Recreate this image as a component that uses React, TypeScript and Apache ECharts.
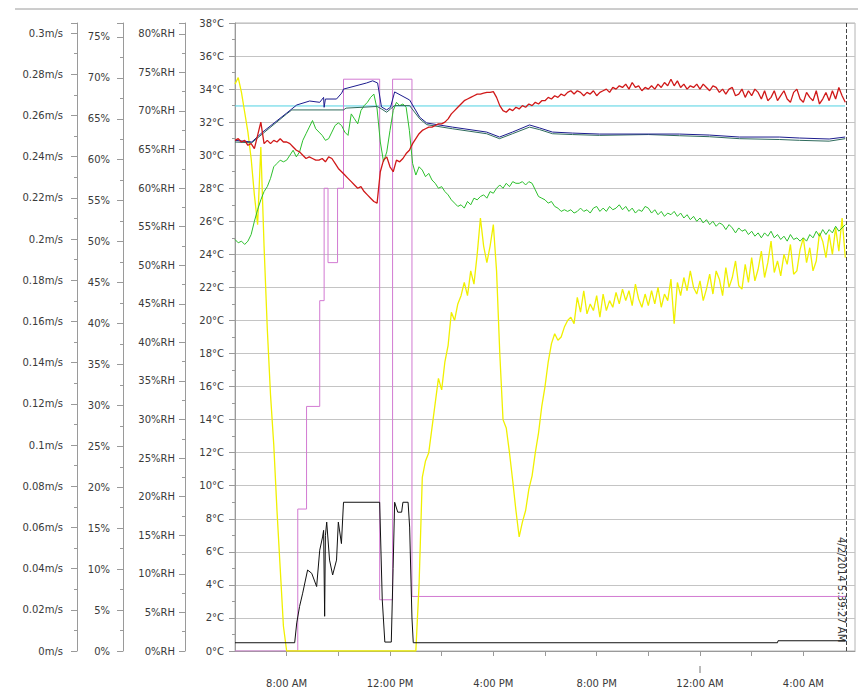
import React, { useEffect, useRef } from "react";
import * as echarts from "echarts";

// ---- time grid for the noisy sensor traces (hours since 00:00 on 4/1/2014) ----
const T_START = 6;
const T_STEP = 0.125;

const RED_C = [
  30.9, 31.0, 30.8, 30.9, 30.6, 30.7, 30.4, 31.2,
  32.0, 30.7, 30.9, 30.7, 30.9, 30.8, 31.0, 30.8,
  30.8, 30.7, 30.5, 30.3, 30.2, 30.0, 29.8, 29.9,
  29.8, 29.7, 29.7, 29.8, 29.6, 29.9, 29.8, 29.5,
  29.2, 29.0, 28.8, 28.6, 28.4, 28.2, 28.0, 28.1,
  27.8, 27.6, 27.4, 27.2, 27.1, 29.0, 29.7, 29.9,
  29.3, 29.0, 29.7, 29.6, 29.8, 30.1, 30.3, 30.7,
  31.0, 31.3, 31.5, 31.6, 31.7, 31.7, 31.8, 31.9,
  31.9, 32.0, 32.2, 32.5, 32.7, 32.9, 33.1, 33.3,
  33.4, 33.5, 33.6, 33.7, 33.7, 33.75, 33.8, 33.8,
  33.85, 33.5, 33.0, 32.7, 32.6, 32.8, 32.7, 32.9,
  32.8, 33.0, 32.9, 33.1, 33.0, 33.2, 33.1, 33.3,
  33.3, 33.5, 33.4, 33.6, 33.5, 33.7, 33.6, 33.8,
  33.9, 33.7, 33.9, 33.8, 33.6, 33.8, 33.7, 33.9,
  33.6, 33.8, 33.9, 34.0, 33.8, 34.1, 34.0, 34.2,
  34.1, 34.3, 34.0, 34.4, 34.1, 34.2, 33.9, 34.1,
  34.0, 34.2, 34.0, 34.3, 34.1, 34.4, 34.2, 34.6,
  34.2, 34.5, 34.1, 34.3, 34.0, 34.2, 34.1, 34.3,
  34.0, 34.3, 34.1, 33.9, 34.2, 34.1, 33.8, 34.0,
  33.7, 34.0, 34.1, 33.6, 33.7, 34.0, 33.5, 33.9,
  33.6, 34.0, 33.8, 33.4, 33.9, 33.3, 33.5, 33.9,
  33.3, 33.6, 33.9, 33.4, 33.2, 33.8, 34.0, 33.4,
  33.2, 33.8, 33.5, 33.3, 33.9, 33.1, 33.4, 33.8,
  33.3, 33.9, 33.4, 34.1, 33.6, 33.2,
];

const YELLOW_C = [
  34.3, 34.7, 33.8, 32.6, 31.4, 29.8, 27.6, 25.8,
  30.5, 24.5, 19.5, 15.5, 12.5, 8.5, 5.0, 1.5,
  0, 0, 0, 0, 0, 0, 0, 0,
  0, 0, 0, 0, 0, 0, 0, 0,
  0, 0, 0, 0, 0, 0, 0, 0,
  0, 0, 0, 0, 0, 0, 0, 0,
  0, 0, 0, 0, 0, 0, 0, 0,
  0, 4.0, 10.5, 11.5, 12.0, 13.5, 15.0, 16.5,
  15.8, 17.5, 18.5, 20.5, 20.0, 21.0, 21.5, 22.3,
  21.5, 23.0, 22.2, 24.0, 26.2, 24.5, 23.5, 24.5,
  25.8, 23.0, 18.0, 14.0, 13.5, 12.0, 10.3, 8.5,
  6.9, 7.8, 8.5, 9.8, 10.6, 12.0, 13.2, 14.8,
  16.0, 17.5, 18.6, 19.2, 18.8, 19.0, 19.6, 20.0,
  20.2, 19.8, 21.4, 20.5, 21.8, 20.4, 21.0, 20.6,
  21.5, 20.2, 21.6, 20.6, 21.2, 20.8, 21.7, 21.0,
  21.9, 21.2, 21.8, 20.9, 22.2, 21.3, 20.8, 21.6,
  20.9, 21.8, 21.0, 22.0, 20.8, 21.6, 21.2, 22.5,
  19.8, 22.3, 21.5, 22.6, 21.8, 23.0, 22.0, 21.6,
  22.4, 21.2, 21.9, 22.8, 21.6, 23.0, 22.5, 21.5,
  23.2, 22.0, 22.6, 23.6, 22.1, 21.9, 23.4, 22.3,
  23.8, 22.4, 23.1, 24.2, 22.6, 23.5, 24.8, 22.9,
  23.6, 22.7, 24.0, 23.4, 24.6, 22.8, 23.0, 24.3,
  25.0, 23.5, 24.4, 23.0, 23.6, 25.3, 24.8, 23.8,
  25.2, 24.0, 25.6, 24.2, 26.2, 23.8,
];

const GREEN_C = [
  24.9, 24.7, 24.8, 24.6, 24.8, 25.2, 26.0, 26.7,
  27.3, 27.8, 28.1, 28.6, 29.3, 29.5, 29.7, 29.6,
  29.7, 30.0, 30.3, 29.9, 30.2, 30.9, 31.3, 31.7,
  32.1, 31.6, 31.4, 31.2, 30.9, 31.0, 31.4, 31.8,
  31.95, 31.8, 31.4, 31.2, 32.5, 32.2, 31.9, 32.7,
  33.0, 33.2, 33.5, 33.7, 32.8, 30.8, 29.6, 30.2,
  31.5, 32.7, 33.2, 33.0, 33.1, 32.9, 31.5, 29.5,
  28.8, 29.3, 29.1, 28.7, 28.9, 28.5, 28.3, 28.0,
  28.1, 27.8, 27.6, 27.3, 27.1, 26.9, 27.0, 26.8,
  27.2, 27.0, 27.4, 27.3, 27.5, 27.6, 27.4, 27.8,
  27.7, 28.0, 28.2, 28.0, 28.3, 28.1, 28.4, 28.3,
  28.3, 28.4, 28.2, 28.4, 28.3, 27.9, 27.5, 27.4,
  27.3, 27.1, 27.2, 26.9, 26.8, 26.6, 26.7, 26.6,
  26.7, 26.5, 26.6, 26.8, 26.6, 26.7, 26.5, 26.8,
  26.9, 26.6, 26.8, 26.6, 26.9, 26.7, 26.8, 27.0,
  26.7, 26.9, 26.6, 26.8, 26.5, 26.7, 26.6, 26.9,
  26.8, 26.5, 26.7, 26.4, 26.6, 26.3, 26.5, 26.4,
  26.6, 26.3, 26.5, 26.2, 26.4, 26.1, 26.3, 26.0,
  26.2, 25.9, 26.1, 25.8, 26.0, 25.7, 25.9, 25.8,
  25.5, 25.8, 25.6, 25.3, 25.6, 25.4, 25.5, 25.2,
  25.4, 25.1, 25.3, 25.0, 25.3, 25.1, 25.4, 25.0,
  25.2, 24.9, 25.1, 24.8, 25.2, 24.9, 25.0, 24.8,
  25.0, 24.8, 25.2, 25.0, 25.4, 25.1, 25.5, 25.2,
  25.5, 25.3, 25.7, 25.4, 25.6, 25.8,
];

const GRID_TIMES = RED_C.map((_, i) => T_START + i * T_STEP);

const BLUE_T = [6.0, 6.65, 7.07, 8.0, 8.39, 8.89, 9.28, 9.43, 9.45, 9.5, 9.93, 10.13, 10.2, 11.09, 11.33, 11.52, 11.67, 11.87, 12.02, 12.18, 12.76, 13.15, 13.42, 14.42, 15.74, 16.24, 16.74, 17.4, 17.79, 18.29, 19.06, 20.11, 23.2, 24.36, 25.53, 27.07, 27.85, 29.0, 29.62];
const BLUE_C = [30.9, 30.8, 31.4, 32.55, 33.04, 33.28, 33.2, 33.5, 32.9, 33.4, 33.4, 33.76, 34.0, 34.37, 34.5, 34.37, 32.92, 32.74, 32.9, 33.83, 33.34, 32.3, 31.95, 31.7, 31.4, 31.1, 31.4, 31.83, 31.65, 31.4, 31.34, 31.28, 31.28, 31.22, 31.1, 31.1, 31.04, 30.98, 31.1];

const TEAL_T = [6.0, 6.65, 7.07, 8.0, 8.2, 10.2, 10.3, 11.5, 11.67, 11.87, 12.02, 12.18, 12.76, 13.15, 13.42, 14.42, 15.74, 16.24, 16.74, 17.4, 17.79, 18.29, 19.06, 20.11, 22.0, 23.2, 24.36, 25.53, 27.07, 27.85, 29.0, 29.62];
const TEAL_C = [30.8, 30.75, 31.3, 32.5, 32.74, 32.74, 32.85, 32.95, 32.8, 32.6, 32.8, 33.0, 33.0, 32.2, 31.85, 31.6, 31.3, 31.0, 31.3, 31.7, 31.55, 31.3, 31.25, 31.2, 31.25, 31.18, 31.12, 31.0, 30.95, 30.9, 30.85, 31.0];

const CYAN_T = [6.0, 29.62];
const CYAN_C = [32.98, 32.98];

const PINK_T = [6.0, 8.43, 8.43, 8.77, 8.77, 9.28, 9.28, 9.45, 9.45, 9.6, 9.6, 9.97, 9.97, 10.2, 10.2, 11.6, 11.6, 12.1, 12.1, 12.85, 12.85, 29.62];
const PINK_C = [0, 0, 8.59, 8.59, 14.8, 14.8, 21.2, 21.2, 28.0, 28.0, 23.5, 23.5, 28.0, 28.0, 34.6, 34.6, 3.1, 3.1, 34.6, 34.6, 3.3, 3.3];

const BLACK_T = [6.0, 8.31, 8.39, 8.5, 8.62, 8.81, 8.97, 9.16, 9.28, 9.39, 9.43, 9.47, 9.5, 9.55, 9.66, 9.78, 9.93, 10.0, 10.12, 10.2, 11.6, 11.7, 11.8, 12.05, 12.12, 12.18, 12.3, 12.45, 12.5, 12.7, 12.76, 12.85, 12.9, 27.0, 27.02, 29.62];
const BLACK_C = [0.5, 0.5, 1.7, 2.7, 3.5, 4.9, 4.7, 3.9, 6.1, 6.9, 7.3, 2.1, 7.0, 7.8, 5.5, 4.6, 5.5, 7.8, 6.5, 9.0, 9.0, 3.1, 0.54, 0.54, 5.0, 9.0, 8.4, 8.4, 9.0, 9.0, 7.5, 2.0, 0.5, 0.5, 0.62, 0.62];

const CURSOR_T = 29.6575;
const CURSOR_LABEL = "4/2/2014 5:39:27 AM";

const X_MIN = 6;
const X_MAX = 30;

const pairs = (t: number[], v: number[]) => t.map((x, i) => [x, v[i]]);

const FONT = "DejaVu Sans";
const LABEL_COLOR = "#3a3a3a";
const AXIS_COLOR = "#9a9a9a";

const isMult = (v: number, step: number) => {
  const k = v / step;
  return Math.abs(k - Math.round(k)) < 1e-4;
};

function yAxisBase(offset: number, max: number, interval: number, margin: number, fmt: (v: number) => string) {
  return {
    type: "value",
    position: "left",
    offset,
    min: 0,
    max,
    interval,
    axisLine: { show: true, lineStyle: { color: AXIS_COLOR, width: 1 } },
    axisTick: { show: true, length: 6, lineStyle: { color: AXIS_COLOR } },
    minorTick: { show: true, splitNumber: 2, length: 3, lineStyle: { color: AXIS_COLOR } },
    splitLine: { show: false },
    axisLabel: { color: LABEL_COLOR, fontFamily: FONT, fontSize: 10, margin, formatter: fmt },
  };
}

export default function App() {
  const ref = useRef<HTMLDivElement>(null);

  useEffect(() => {
    if (!ref.current) return;
    const chart = echarts.init(ref.current, null, { renderer: "svg" });

    const lineSeries = (name: string, data: number[][], color: string, width = 1, extra: any = {}) => ({
      name,
      type: "line",
      yAxisIndex: 0,
      data,
      showSymbol: false,
      symbol: "none",
      lineStyle: { color, width },
      itemStyle: { color },
      ...extra,
    });

    const option: any = {
      animation: false,
      backgroundColor: "#ffffff",
      grid: {
        left: 235,
        right: 3,
        top: 23,
        bottom: 41,
        show: true,
        borderColor: "#b4b4b4",
        borderWidth: 1,
        backgroundColor: "transparent",
      },
      xAxis: {
        type: "value",
        min: X_MIN,
        max: X_MAX,
        interval: 2,
        axisLine: { show: true, lineStyle: { color: AXIS_COLOR } },
        axisTick: { show: true, length: 5, lineStyle: { color: AXIS_COLOR } },
        splitLine: { show: false },
        axisLabel: {
          color: LABEL_COLOR,
          fontFamily: FONT,
          fontSize: 10,
          margin: 27,
          showMinLabel: false,
          showMaxLabel: false,
          formatter: (v: number) => {
            if ((v - 8) % 4 !== 0) return "";
            const h = v % 24;
            const h12 = h % 12 === 0 ? 12 : h % 12;
            return `${h12}:00 ${h < 12 ? "AM" : "PM"}`;
          },
        },
      },
      yAxis: [
        {
          ...yAxisBase(0, 38, 2, 11, (v: number) => `${v}°C`),
          splitLine: { show: true, lineStyle: { color: "#c4c4c4", width: 1 } },
        },
        yAxisBase(50, 81.4, 5, 10, (v: number) => (isMult(v, 5) ? `${Math.round(v)}%RH` : "")),
        yAxisBase(112, 76.7, 5, 13, (v: number) => (isMult(v, 5) ? `${Math.round(v)}%` : "")),
        yAxisBase(158, 0.3049, 0.02, 14, (v: number) =>
          isMult(v, 0.02) ? `${+(Math.round(v / 0.02) * 0.02).toFixed(2)}m/s` : ""
        ),
      ],
      series: [
        lineSeries("Setpoint", pairs(CYAN_T, CYAN_C), "#4fd2e2"),
        lineSeries("Output", pairs(PINK_T, PINK_C), "#d27ad2"),
        lineSeries("Solar", pairs(GRID_TIMES, YELLOW_C), "#f0f000", 1.3),
        lineSeries("Humidity", pairs(GRID_TIMES, GREEN_C), "#2cbf2c"),
        lineSeries("Zone temp 2", pairs(TEAL_T, TEAL_C), "#2f6b5c"),
        lineSeries("Zone temp 1", pairs(BLUE_T, BLUE_C), "#1c1c8e"),
        lineSeries("Outside", pairs(GRID_TIMES, RED_C), "#d01818", 1.3),
        lineSeries("Air speed", pairs(BLACK_T, BLACK_C), "#111111", 1, {
          markLine: {
            silent: true,
            symbol: ["none", "none"],
            label: { show: false },
            lineStyle: { type: "dashed", color: "#444", width: 1 },
            data: [{ xAxis: CURSOR_T }],
          },
        }),
      ],
      graphic: [
        {
          type: "line",
          shape: { x1: 15, y1: 9, x2: 858, y2: 9 },
          style: { stroke: "#9a9a9a", lineWidth: 1 },
        },
        {
          type: "line",
          shape: { x1: 700, y1: 666, x2: 700, y2: 673 },
          style: { stroke: "#777", lineWidth: 1 },
        },
        {
          type: "text",
          x: 841,
          y: 537,
          rotation: -Math.PI / 2,
          style: {
            text: CURSOR_LABEL,
            fill: "#333",
            font: `10px "${FONT}"`,
            textAlign: "left",
            textVerticalAlign: "middle",
          },
        },
      ],
    };

    chart.setOption(option);
    return () => chart.dispose();
  }, []);

  return (
    <div
      ref={ref}
      style={{ position: "fixed", left: 0, top: 0, width: 858, height: 692 }}
    />
  );
}
